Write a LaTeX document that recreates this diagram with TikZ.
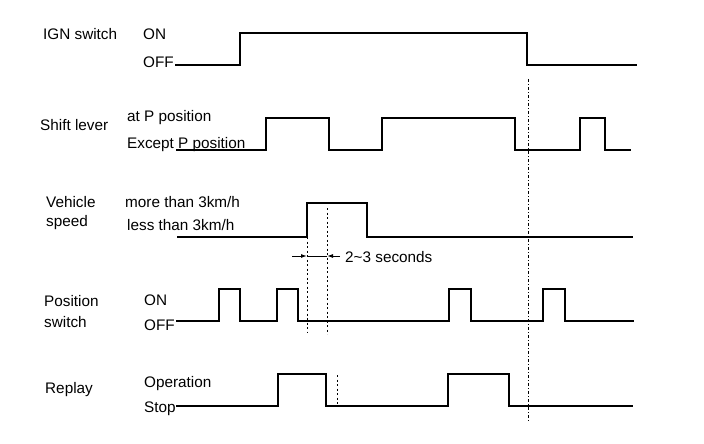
\documentclass[tikz,border=0pt]{standalone}
\usepackage{fontspec}
\setmainfont{Liberation Sans}
\usetikzlibrary{arrows.meta}

\begin{document}
\begin{tikzpicture}[
  x=1pt, y=-1pt,
  lbl/.style={anchor=base west, inner sep=0pt, font=\fontsize{15.3}{18}\selectfont},
  sig/.style={line width=1.8pt, line join=miter},
  guide/.style={line width=0.7pt, dash pattern=on 2pt off 2.5pt},
  axisline/.style={line width=0.8pt, dash pattern=on 3pt off 2pt on 1pt off 2pt},
  tick/.style={line width=1pt, -{Latex[length=6pt,width=4pt]}}
]
\useasboundingbox (0,0) rectangle (704,444);

% IGN switch
\node[lbl] (ign) at (43,40) {IGN switch};
\node[lbl] (ignon) at (143,40) {ON};
\node[lbl] (ignoff) at (143,67) {OFF};
\draw[sig] (175,65) -- (240,65) -- (240,33) -- (527,33) -- (527,65) -- (637,65);

% shift lever
\node[lbl] (shift) at (40,130) {Shift lever};
\node[lbl] (shiftp) at (127,121) {at P position};
\node[lbl] (shiftx) at (127,148) {Except P position};
\draw[sig] (176,150) -- (266,150) -- (266,118) -- (329,118) -- (329,150) -- (382,150)
  -- (382,118) -- (515,118) -- (515,150) -- (580,150) -- (580,118) -- (605,118)
  -- (605,150) -- (631,150);

% vehicle speed
\node[lbl] (veh) at (46,207) {Vehicle};
\node[lbl] (spd) at (46,226) {speed};
\node[lbl] (spdhi) at (125,207) {more than 3km/h};
\node[lbl] (spdlo) at (127,230) {less than 3km/h};
\draw[sig] (177,237) -- (307,237) -- (307,203) -- (367,203) -- (367,237) -- (633,237);

% 2~3 seconds
\coordinate (t1) at (307,256);
\coordinate (t2) at (327,256);
\draw[tick] (292,256) -- (t1);
\draw[tick] (340,256) -- (t2);
\draw[line width=1pt] (t1) -- (t2);
\node[lbl] (delay) at (345,262) {2\textasciitilde3 seconds};

% position switch
\node[lbl] (pos) at (44,306) {Position};
\node[lbl] (posb) at (44,327) {switch};
\node[lbl] (poson) at (144,305) {ON};
\node[lbl] (posoff) at (144,330) {OFF};
\draw[sig] (176,321) -- (219,321) -- (219,289) -- (240,289) -- (240,321) -- (277,321)
  -- (277,289) -- (298,289) -- (298,321) -- (449,321) -- (449,289) -- (471,289)
  -- (471,321) -- (543,321) -- (543,289) -- (565,289) -- (565,321) -- (634,321);

% replay
\node[lbl] (rel) at (45,393) {Replay};
\node[lbl] (relon) at (144,387) {Operation};
\node[lbl] (reloff) at (144,412) {Stop};
\draw[sig] (176,406) -- (278,406) -- (278,374) -- (326,374) -- (326,406) -- (448,406)
  -- (448,374) -- (509,374) -- (509,406) -- (633,406);

% guides
\draw[guide] (307,237) -- (307,332);
\draw[guide] (327,208) -- (327,334);
\draw[guide] (337,375) -- (337,406);
\draw[axisline] (528,79) -- (528,421);
\end{tikzpicture}
\end{document}
